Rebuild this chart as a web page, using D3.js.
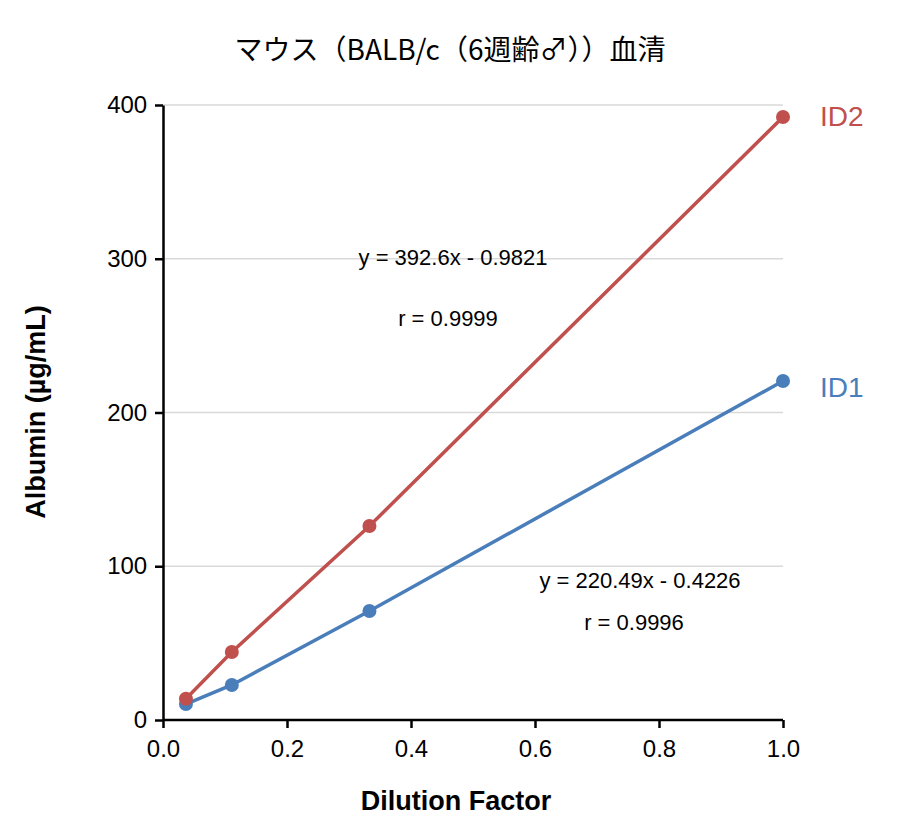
<!DOCTYPE html>
<html><head><meta charset="utf-8">
<script src="https://cdn.jsdelivr.net/npm/d3@7"></script>
<style>body{margin:0;background:#fff}</style>
</head><body><svg id="c" width="900" height="826"></svg>
<script>
const dilution = [0.037, 0.111, 0.333, 1.0];
const id1 = [10.4, 22.8, 70.9, 220.5];
const id2 = [13.8, 44.2, 126.2, 392.2];
const xTicks = [0, 0.2, 0.4, 0.6, 0.8, 1.0];
const yTicks = [0, 100, 200, 300, 400];
const svg = d3.select("#c");
const x = d3.scaleLinear().domain([0,1]).range([163,783]);
const y = d3.scaleLinear().domain([0,400]).range([720,105]);
const font = "'Liberation Sans', Arial, sans-serif";
svg.append("g").selectAll("line").data(yTicks.slice(1)).join("line")
  .attr("x1",163).attr("x2",783).attr("y1",d=>y(d)).attr("y2",d=>y(d))
  .style("stroke","#d9d9d9").style("stroke-width",1.5);
const xa = svg.append("g").attr("transform","translate(0,720)")
  .call(d3.axisBottom(x).tickValues(xTicks).tickFormat(d3.format(".1f")).tickSize(8).tickSizeOuter(0));
const ya = svg.append("g").attr("transform","translate(163,0)")
  .call(d3.axisLeft(y).tickValues(yTicks).tickSize(8).tickSizeOuter(0));
[xa,ya].forEach(a=>{a.selectAll("path,line").style("stroke","#000").style("stroke-width",2.5);
  a.selectAll("text").style("font-size","24px").style("font-family",font).style("fill","#000");});
xa.selectAll("text").attr("dy","1.1em");
ya.selectAll("text").attr("dx","-0.2em");
xa.select(".domain").attr("d","M163,0H783");
function series(vals,color,label,ly){
  const pts = dilution.map((d,i)=>[d,vals[i]]);
  svg.append("path").datum(pts).style("fill","none").style("stroke",color).style("stroke-width",3.5)
    .attr("d",d3.line().x(d=>x(d[0])).y(d=>y(d[1])));
  svg.append("g").selectAll("circle").data(pts).join("circle")
    .attr("cx",d=>x(d[0])).attr("cy",d=>y(d[1])).attr("r",7).style("fill",color);
  svg.append("text").attr("x",820).attr("y",ly).style("fill",color).style("font-size","28px")
    .style("font-family",font).text(label);
}
series(id1,"#4a7ebb","ID1",397);
series(id2,"#c0504d","ID2",126);
const ann = [["y = 392.6x - 0.9821",453,265],["r = 0.9999",448,326],["y = 220.49x - 0.4226",640,588],["r = 0.9996",634,630]];
svg.append("g").selectAll("text").data(ann).join("text")
  .attr("x",d=>d[1]).attr("y",d=>d[2]).attr("text-anchor","middle").style("font-size","22px")
  .style("font-family",font).style("fill","#000").text(d=>d[0]);
svg.append("text").attr("x",450).attr("y",60).attr("text-anchor","middle").style("font-size","28px")
  .style("font-family","'Noto Sans CJK JP'").text("マウス（BALB/c（6週齢♂））血清");
svg.append("text").attr("x",456).attr("y",810).attr("text-anchor","middle").style("font-size","27px")
  .style("font-weight","bold").style("font-family",font).text("Dilution Factor");
svg.append("text").attr("transform","translate(45,412) rotate(-90)").attr("text-anchor","middle")
  .style("font-size","27px").style("font-weight","bold").style("font-family",font).text("Albumin (µg/mL)");
</script></body></html>
